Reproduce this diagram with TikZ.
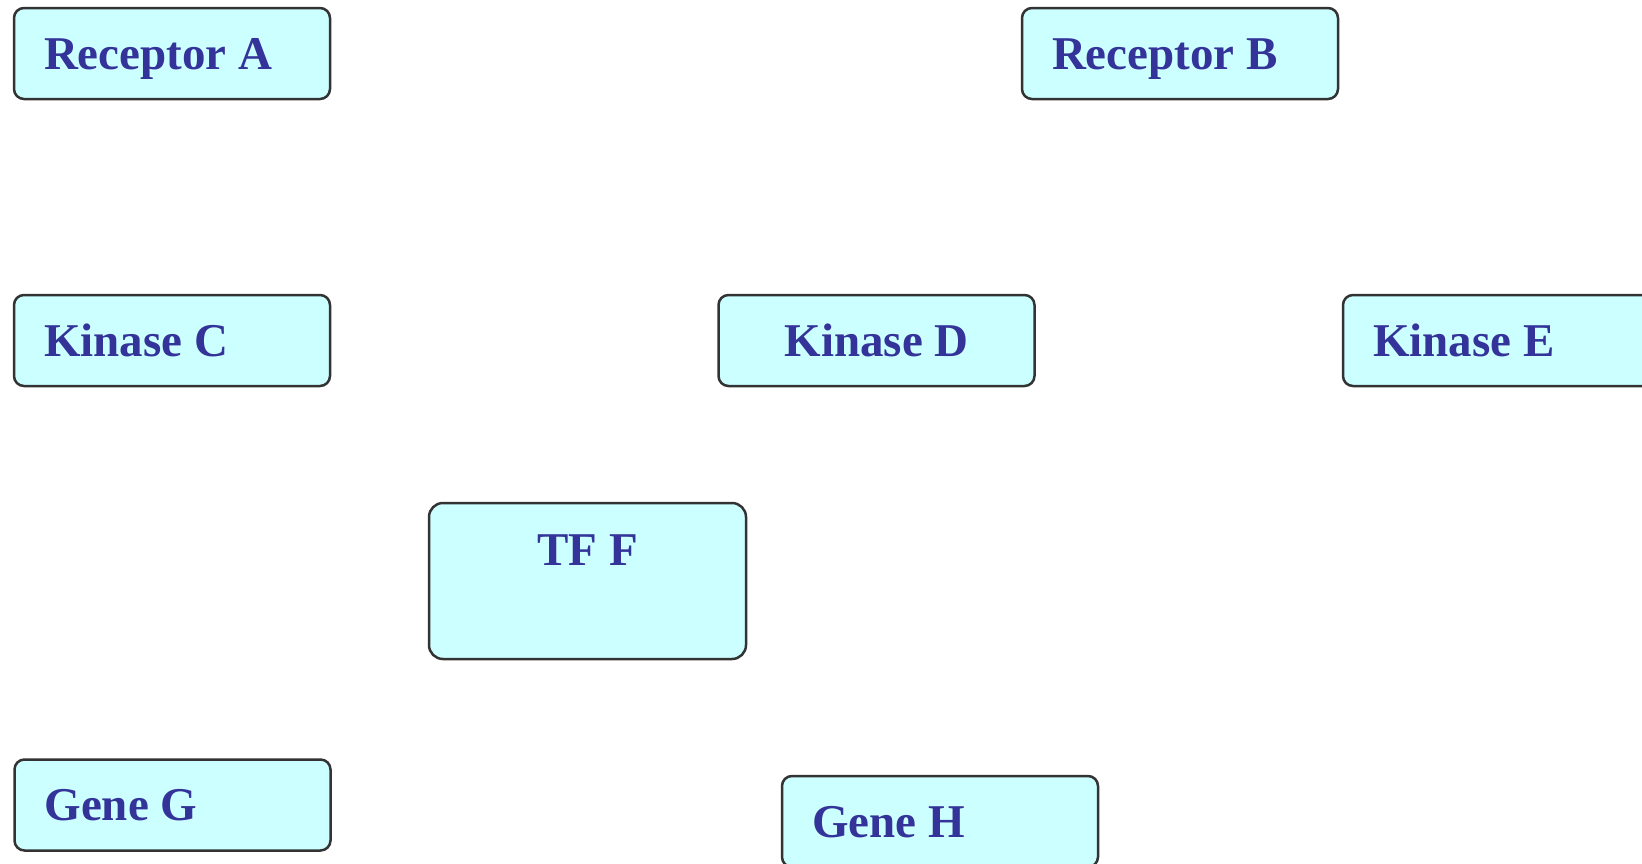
\documentclass[tikz,border=0pt]{standalone}
\usepackage{fontspec}
\setmainfont{Liberation Serif}
\definecolor{boxfill}{HTML}{CCFFFF}
\definecolor{boxline}{HTML}{333333}
\definecolor{labeltext}{HTML}{333399}
\tikzset{
  pathbox/.style={
    draw=boxline, fill=boxfill, line width=2.5pt, rounded corners=10pt,
    minimum width=316pt, minimum height=91pt, inner ysep=0pt,
    text=labeltext, font=\fontsize{47}{50}\selectfont\bfseries,
    text height=36pt, text depth=5pt,
    % keep the font's own word space inside the aligned labels
    execute at begin node={\spaceskip=.25em\relax}
  },
  leftbox/.style={pathbox, inner xsep=30pt, text width=256pt, align=left},
  midbox/.style={pathbox, align=center},
  tallbox/.style={pathbox, align=center, rounded corners=14pt,
    minimum width=317pt, minimum height=156pt,
    text height=36pt, text depth=68pt}
}
\begin{document}
\begin{tikzpicture}[x=1pt, y=-1pt]
  \useasboundingbox (0,0) rectangle (1642,863);
  \clip (0,0) rectangle (1642,863);
  % receptors
  \node[leftbox] (ra) at (172,53.5) {Receptor A};
  \node[leftbox] (rb) at (1180,53.5) {Receptor B};
  % kinases
  \node[leftbox] (kc) at (172,340.5) {Kinase C};
  \node[midbox]  (kd) at (876.5,340.5) {Kinase D};
  \node[leftbox] (ke) at (1501,340.5) {Kinase E};
  % transcription factor
  \node[tallbox] (tf) at (587.5,581) {TF F};
  % genes
  \node[leftbox] (gg) at (172.5,805) {Gene G};
  \node[leftbox] (gh) at (940,821.5) {Gene H};
\end{tikzpicture}
\end{document}
